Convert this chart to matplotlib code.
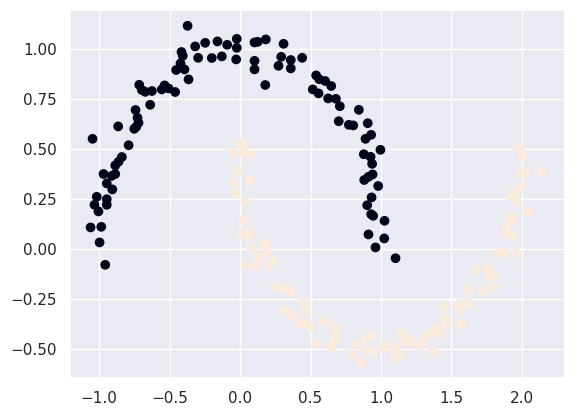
import numpy as np
import matplotlib
matplotlib.use("Agg")
import matplotlib.pyplot as plt
import seaborn as sns

sns.set_theme()

# upper moon (label 0)
x_upper = [-0.372, -0.318, -0.247, -0.160, -0.091, -0.023, -0.023, -0.297, -0.200, -0.129,
           -0.027, -0.415, -0.406, -0.422, -0.453, -0.394, -0.365, -0.715, -0.696, -0.672,
           -0.625, -0.555, -0.535, -0.507, -0.460, -0.637, -0.741, -0.727, -0.720, -0.736,
           -0.750, -0.864, -1.046, -0.790, -0.838, -0.862, -0.885, -0.885, -0.968, -0.909,
           -0.945, -0.906, -1.016, -0.945, -1.032, -0.945, -1.004, -1.060, -0.984, -0.996,
           -0.956, 0.103, 0.126, 0.183, 0.309, 0.103, 0.103, 0.179, 0.292, 0.273,
           0.360, 0.360, 0.441, 0.540, 0.562, 0.604, 0.647, 0.516, 0.557, 0.625,
           0.680, 0.708, 0.843, 0.700, 0.772, 0.803, 0.906, 0.930, 0.890, 0.996,
           0.878, 0.926, 0.937, 0.940, 0.911, 0.881, 0.980, 0.933, 0.902, 0.930,
           0.944, 1.025, 0.911, 1.023, 0.961, 1.103]
y_upper = [1.118, 1.015, 1.033, 1.040, 1.023, 1.053, 1.008, 0.958, 0.957, 0.965,
           0.950, 0.987, 0.968, 0.930, 0.897, 0.900, 0.850, 0.823, 0.797, 0.788,
           0.792, 0.800, 0.820, 0.805, 0.787, 0.723, 0.697, 0.658, 0.633, 0.613,
           0.603, 0.615, 0.553, 0.521, 0.462, 0.438, 0.420, 0.377, 0.377, 0.368,
           0.330, 0.300, 0.263, 0.251, 0.223, 0.223, 0.190, 0.110, 0.113, 0.035,
           -0.077, 1.035, 1.038, 1.050, 1.028, 0.943, 0.900, 0.822, 0.963, 0.918,
           0.947, 0.905, 0.958, 0.870, 0.851, 0.842, 0.817, 0.800, 0.780, 0.755,
           0.753, 0.716, 0.698, 0.641, 0.623, 0.620, 0.631, 0.573, 0.553, 0.498,
           0.476, 0.463, 0.428, 0.375, 0.363, 0.347, 0.317, 0.260, 0.221, 0.176,
           0.168, 0.143, 0.075, 0.055, 0.010, -0.044]

# lower moon (label 1)
x_lower = [-0.010, 0.013, -0.051, 0.025, 0.072, -0.020, -0.050, 0.060, -0.036, 0.037,
           0.025, 0.009, 0.065, 0.065, 0.174, 0.084, 0.183, 0.126, 0.037, 0.103,
           0.197, 0.233, 0.240, 0.296, 0.332, 0.363, 0.450, 0.469, 0.316, 0.344,
           0.372, 0.427, 0.450, 0.505, 0.597, 0.663, 0.670, 0.670, 0.538, 0.642,
           0.824, 0.793, 0.855, 0.888, 0.911, 0.935, 0.888, 0.947, 1.018, 1.030,
           1.100, 1.100, 1.135, 1.928, 1.916, 1.959, 2.037, 1.916, 1.923, 1.892,
           1.885, 1.933, 1.810, 1.869, 1.956, 1.672, 1.750, 1.762, 1.793, 1.616,
           1.722, 1.793, 1.443, 1.538, 1.608, 1.628, 1.557, 1.450, 1.460, 1.396,
           1.408, 1.569, 1.360, 1.309, 1.278, 1.363, 1.183, 1.167, 1.218, 1.140,
           1.975, 2.001, 2.136, 1.987, 2.022, 1.991, 1.951]
y_lower = [0.530, 0.530, 0.485, 0.485, 0.475, 0.396, 0.334, 0.343, 0.280, 0.240,
           0.143, 0.080, 0.090, 0.063, 0.030, 0.005, -0.017, -0.042, -0.082, -0.082,
           -0.079, -0.059, -0.185, -0.192, -0.199, -0.214, -0.265, -0.309, -0.309, -0.320,
           -0.329, -0.370, -0.367, -0.387, -0.359, -0.390, -0.415, -0.449, -0.474, -0.487,
           -0.472, -0.520, -0.564, -0.450, -0.437, -0.429, -0.504, -0.517, -0.495, -0.474,
           -0.487, -0.545, -0.420, 0.283, 0.267, 0.238, 0.190, 0.172, 0.143, 0.122,
           0.083, 0.070, -0.025, -0.015, -0.020, -0.103, -0.097, -0.133, -0.128, -0.200,
           -0.208, -0.188, -0.283, -0.275, -0.267, -0.275, -0.300, -0.345, -0.378, -0.395,
           -0.423, -0.375, -0.417, -0.437, -0.479, -0.514, -0.447, -0.467, -0.467, -0.524,
           0.505, 0.463, 0.390, 0.380, 0.377, 0.313, 0.250]

X = np.column_stack([x_upper + x_lower, y_upper + y_lower])
labels = np.array([0] * len(x_upper) + [1] * len(x_lower))

fig, ax = plt.subplots(figsize=(5.75, 4.17), dpi=100)
fig.subplots_adjust(left=0.1217, right=0.9826, top=0.976, bottom=0.0935)

ax.scatter(X[:, 0], X[:, 1], c=labels, cmap=sns.color_palette("rocket", as_cmap=True))
ax.set_xlim(-1.206, 2.305)
ax.set_ylim(-0.643, 1.197)

plt.savefig("out.png")
